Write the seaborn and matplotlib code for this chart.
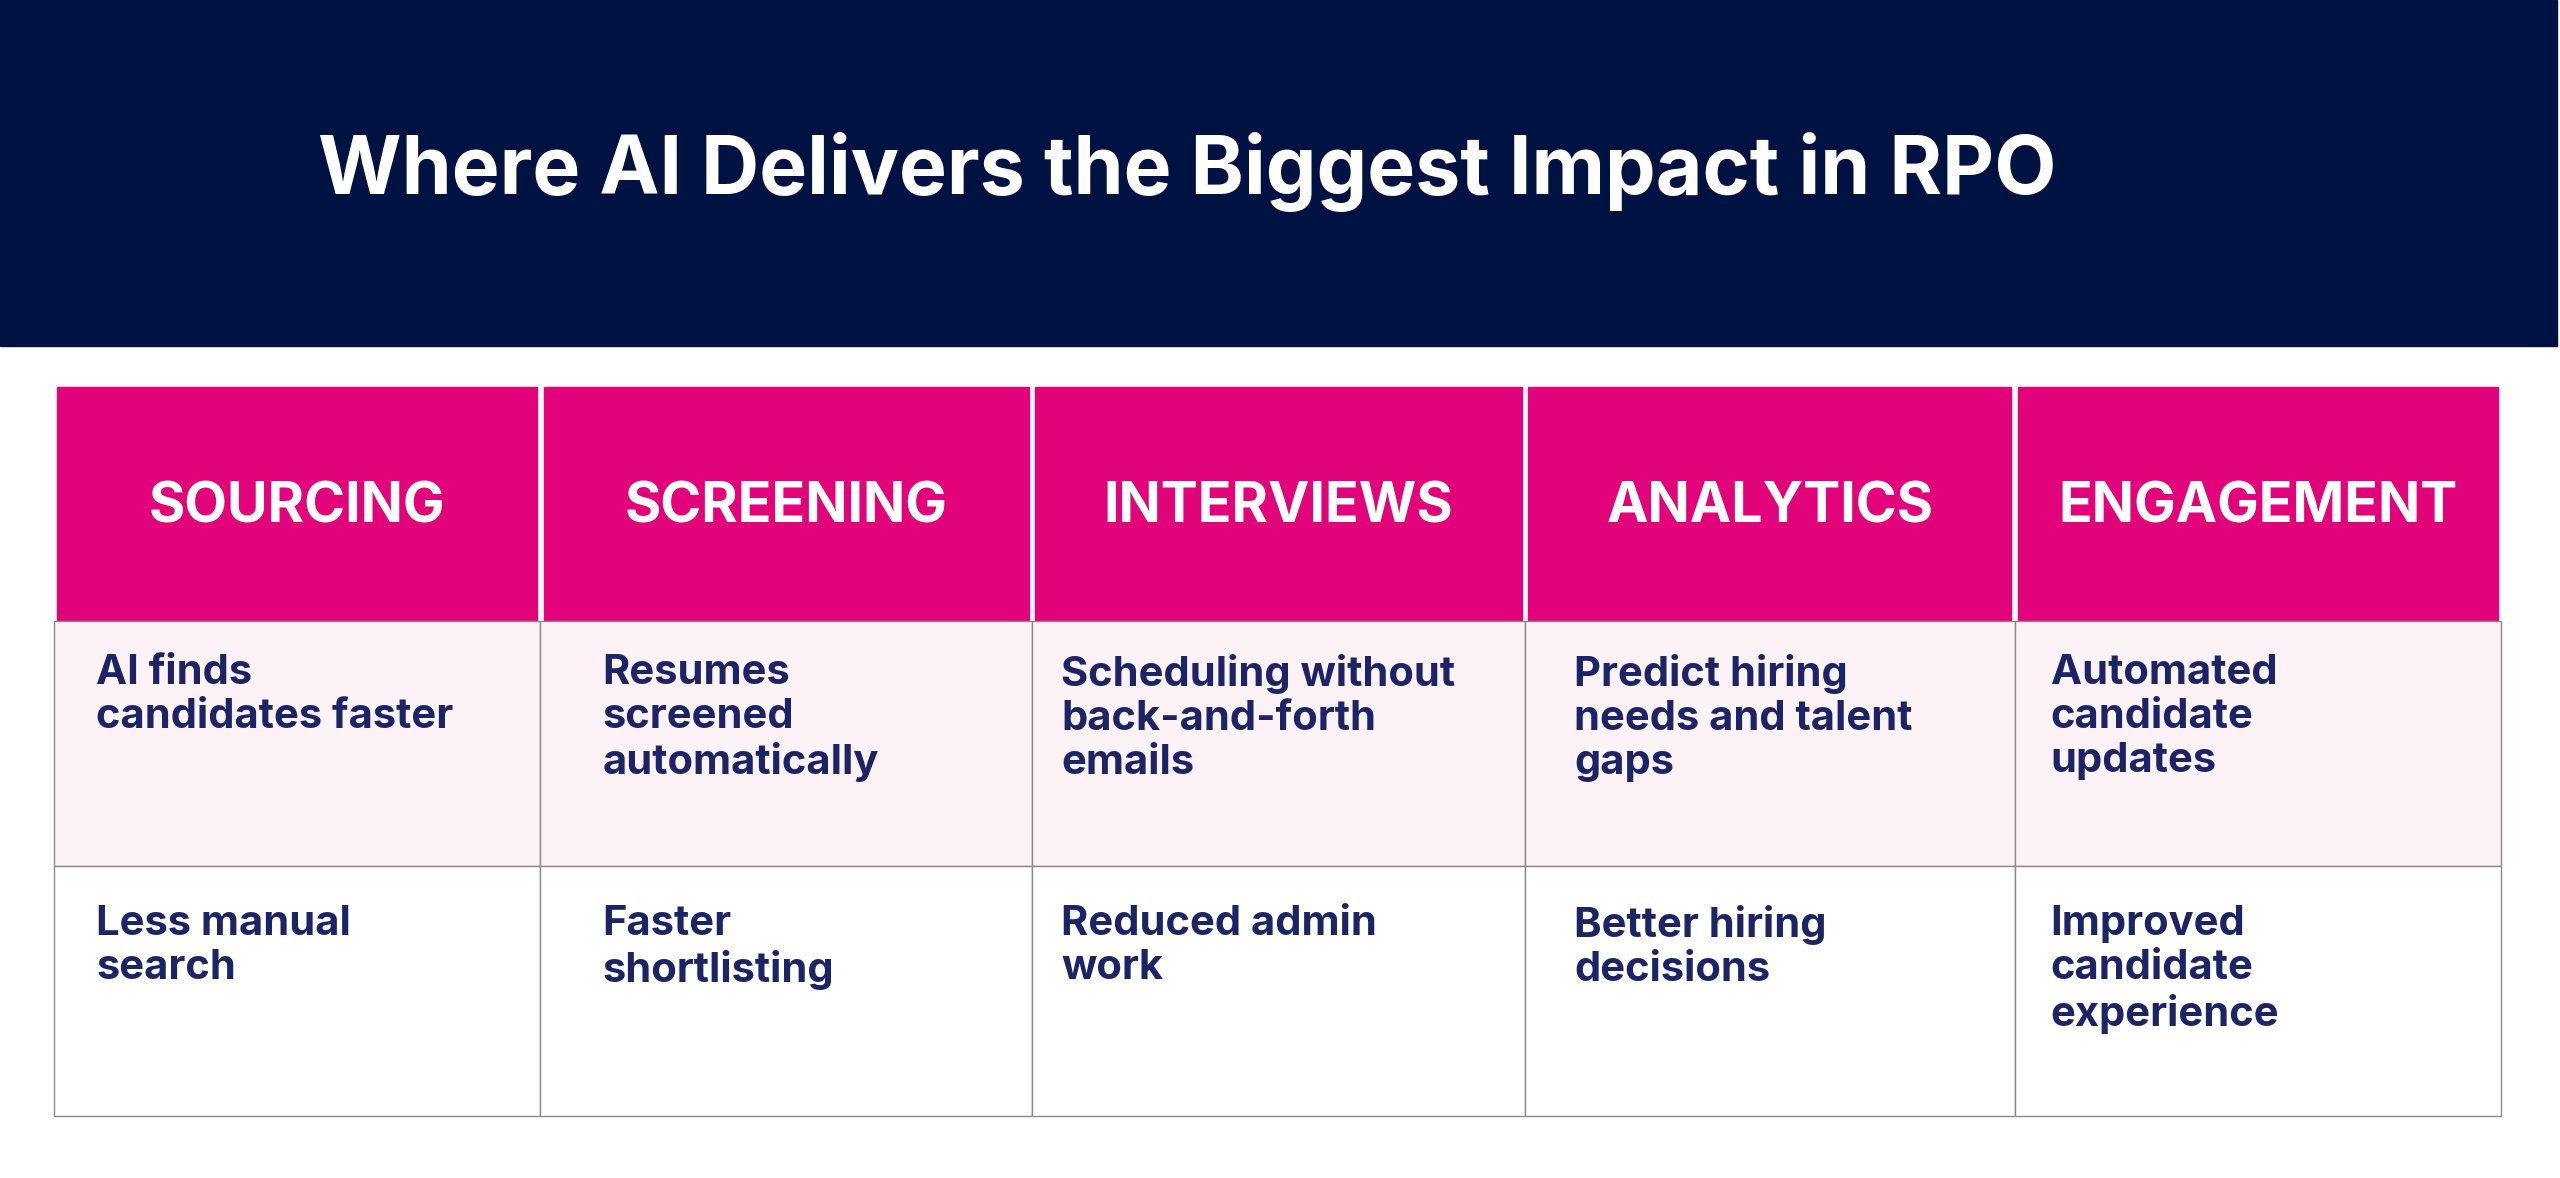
import matplotlib.pyplot as plt
import matplotlib.patches as mpatches
import seaborn as sns

sns.set_theme(style="white")
plt.rcParams['font.family'] = ['Inter', 'DejaVu Sans']

title = "Where AI Delivers the Biggest Impact in RPO"
categories = ["SOURCING", "SCREENING", "INTERVIEWS", "ANALYTICS", "ENGAGEMENT"]
row1 = ["AI finds\ncandidates faster", "Resumes\nscreened\nautomatically",
        "Scheduling without\nback-and-forth\nemails", "Predict hiring\nneeds and talent\ngaps",
        "Automated\ncandidate\nupdates"]
row2 = ["Less manual\nsearch", "Faster\nshortlisting", "Reduced admin\nwork",
        "Better hiring\ndecisions", "Improved\ncandidate\nexperience"]

navy = "#001242"
pink = "#E2037A"
light = "#FDF2F6"
textc = "#1B2566"

fig = plt.figure(figsize=(25.6, 11.78), dpi=100)
ax = fig.add_axes([0, 0, 1, 1])
ax.set_xlim(0, 1568)
ax.set_ylim(721, 0)
ax.axis("off")

# title band
ax.add_patch(mpatches.Rectangle((0, 0), 1566, 212, color=navy))
ax.text(195, 105, title, color="white", fontsize=58, fontweight="bold", va="center", ha="left")

edges = [33, 331, 632, 934, 1234, 1532]
y_head, y_r1, y_r2, y_end = 237, 380, 530, 683

for i, cat in enumerate(categories):
    x0, x1 = edges[i], edges[i + 1]
    ax.add_patch(mpatches.Rectangle((x0 + 2, y_head), x1 - x0 - 4, y_r1 - y_head, color=pink))
    ax.text((x0 + x1) / 2, (y_head + y_r1) / 2 + 2, cat, color="white", fontsize=40,
            fontweight="bold", ha="center", va="center")
    ax.add_patch(mpatches.Rectangle((x0, y_r1), x1 - x0, y_r2 - y_r1, facecolor=light,
                                    edgecolor="#8a8a8a", lw=1))
    ax.add_patch(mpatches.Rectangle((x0, y_r2), x1 - x0, y_end - y_r2, facecolor="white",
                                    edgecolor="#8a8a8a", lw=1))
    ax.text(x0 + 26 if i == 0 else x0 + 38 if i == 1 else x0 + 18 if i == 2 else x0 + 30 if i == 3 else x0 + 22,
            400, row1[i], color=textc, fontsize=30, fontweight="bold", ha="left", va="top",
            linespacing=1.2)
    ax.text(x0 + 26 if i == 0 else x0 + 38 if i == 1 else x0 + 18 if i == 2 else x0 + 30 if i == 3 else x0 + 22,
            554, row2[i], color=textc, fontsize=30, fontweight="bold", ha="left", va="top",
            linespacing=1.2)

fig.savefig("out.png", dpi=100, facecolor="white")
